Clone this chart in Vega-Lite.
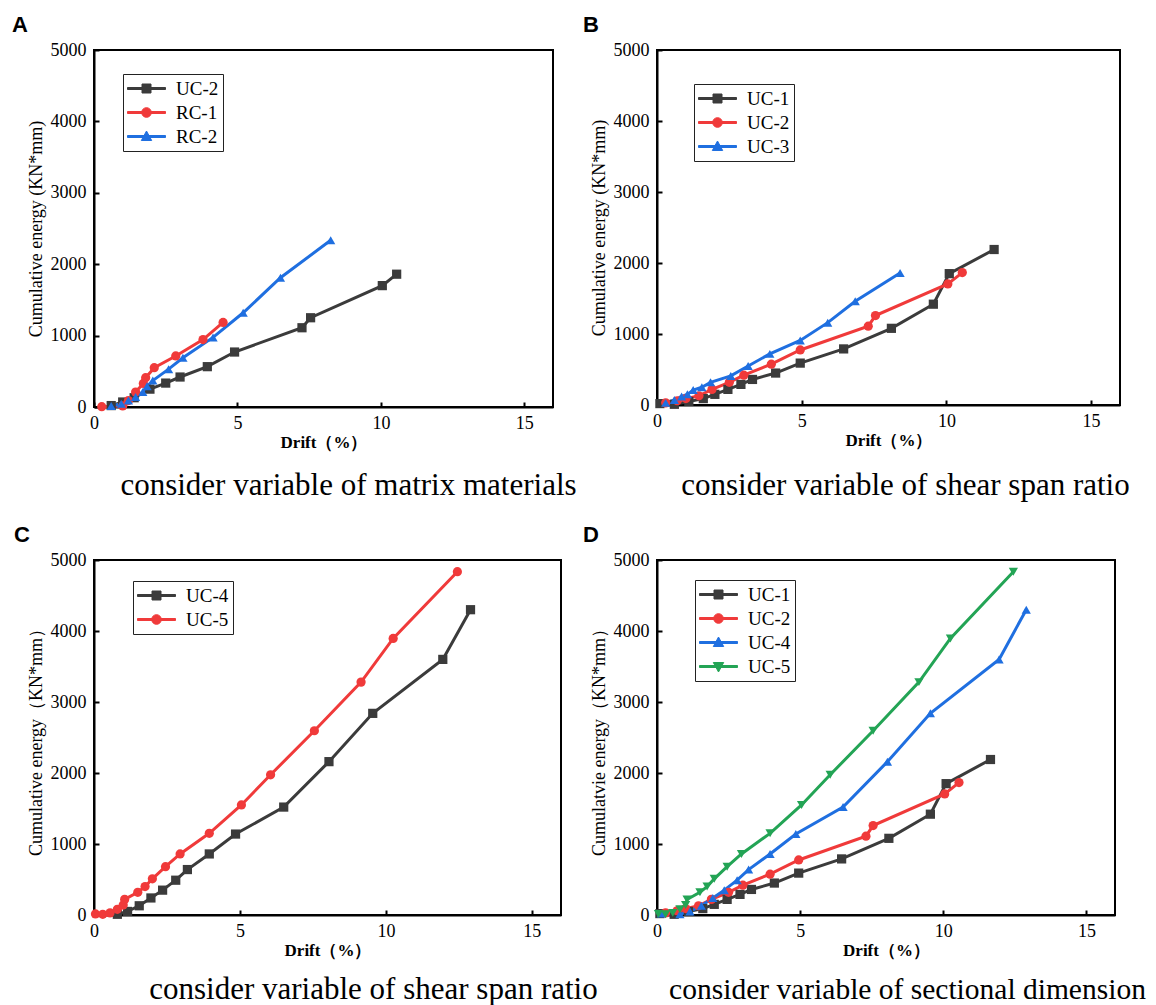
{
  "$schema": "https://vega.github.io/schema/vega-lite/v6.json",
  "padding": {"left": 11, "top": 13, "right": 5, "bottom": 5},
  "background": "white",
  "datasets": {
    "dA": [
      {"s": "UC-2", "x": 0.6, "y": 20}, {"s": "UC-2", "x": 1.0, "y": 70}, {"s": "UC-2", "x": 1.4, "y": 130}, {"s": "UC-2", "x": 1.95, "y": 250}, {"s": "UC-2", "x": 2.5, "y": 335}, {"s": "UC-2", "x": 3.0, "y": 420}, {"s": "UC-2", "x": 3.95, "y": 565}, {"s": "UC-2", "x": 4.9, "y": 770}, {"s": "UC-2", "x": 7.25, "y": 1110}, {"s": "UC-2", "x": 7.55, "y": 1250}, {"s": "UC-2", "x": 10.05, "y": 1700}, {"s": "UC-2", "x": 10.55, "y": 1860},
      {"s": "RC-1", "x": 0.27, "y": 5}, {"s": "RC-1", "x": 1.0, "y": 15}, {"s": "RC-1", "x": 1.2, "y": 90}, {"s": "RC-1", "x": 1.45, "y": 210}, {"s": "RC-1", "x": 1.72, "y": 330}, {"s": "RC-1", "x": 1.8, "y": 410}, {"s": "RC-1", "x": 2.1, "y": 550}, {"s": "RC-1", "x": 2.85, "y": 715}, {"s": "RC-1", "x": 3.8, "y": 945}, {"s": "RC-1", "x": 4.5, "y": 1185},
      {"s": "RC-2", "x": 0.6, "y": 15}, {"s": "RC-2", "x": 0.95, "y": 45}, {"s": "RC-2", "x": 1.2, "y": 90}, {"s": "RC-2", "x": 1.45, "y": 140}, {"s": "RC-2", "x": 1.7, "y": 210}, {"s": "RC-2", "x": 1.85, "y": 290}, {"s": "RC-2", "x": 2.05, "y": 370}, {"s": "RC-2", "x": 2.6, "y": 530}, {"s": "RC-2", "x": 3.1, "y": 690}, {"s": "RC-2", "x": 4.15, "y": 975}, {"s": "RC-2", "x": 5.2, "y": 1320}, {"s": "RC-2", "x": 6.5, "y": 1810}, {"s": "RC-2", "x": 8.25, "y": 2335}
    ],
    "dB": [
      {"s": "UC-1", "x": 0.1, "y": 20}, {"s": "UC-1", "x": 0.6, "y": 10}, {"s": "UC-1", "x": 1.1, "y": 50}, {"s": "UC-1", "x": 1.6, "y": 90}, {"s": "UC-1", "x": 2.0, "y": 150}, {"s": "UC-1", "x": 2.45, "y": 220}, {"s": "UC-1", "x": 2.9, "y": 290}, {"s": "UC-1", "x": 3.3, "y": 360}, {"s": "UC-1", "x": 4.1, "y": 450}, {"s": "UC-1", "x": 4.95, "y": 590}, {"s": "UC-1", "x": 6.45, "y": 790}, {"s": "UC-1", "x": 8.1, "y": 1080}, {"s": "UC-1", "x": 9.55, "y": 1420}, {"s": "UC-1", "x": 10.1, "y": 1850}, {"s": "UC-1", "x": 11.65, "y": 2190},
      {"s": "UC-2", "x": 0.3, "y": 30}, {"s": "UC-2", "x": 0.7, "y": 60}, {"s": "UC-2", "x": 1.0, "y": 90}, {"s": "UC-2", "x": 1.45, "y": 130}, {"s": "UC-2", "x": 1.9, "y": 220}, {"s": "UC-2", "x": 2.5, "y": 320}, {"s": "UC-2", "x": 3.0, "y": 420}, {"s": "UC-2", "x": 3.95, "y": 575}, {"s": "UC-2", "x": 4.95, "y": 775}, {"s": "UC-2", "x": 7.3, "y": 1110}, {"s": "UC-2", "x": 7.55, "y": 1260}, {"s": "UC-2", "x": 10.05, "y": 1705}, {"s": "UC-2", "x": 10.55, "y": 1865},
      {"s": "UC-3", "x": 0.3, "y": 30}, {"s": "UC-3", "x": 0.6, "y": 70}, {"s": "UC-3", "x": 0.85, "y": 120}, {"s": "UC-3", "x": 1.05, "y": 150}, {"s": "UC-3", "x": 1.25, "y": 210}, {"s": "UC-3", "x": 1.55, "y": 250}, {"s": "UC-3", "x": 1.85, "y": 320}, {"s": "UC-3", "x": 2.55, "y": 410}, {"s": "UC-3", "x": 3.15, "y": 550}, {"s": "UC-3", "x": 3.9, "y": 720}, {"s": "UC-3", "x": 4.95, "y": 910}, {"s": "UC-3", "x": 5.9, "y": 1160}, {"s": "UC-3", "x": 6.85, "y": 1460}, {"s": "UC-3", "x": 8.4, "y": 1860}
    ],
    "dC": [
      {"s": "UC-4", "x": 0.8, "y": 10}, {"s": "UC-4", "x": 1.15, "y": 50}, {"s": "UC-4", "x": 1.55, "y": 130}, {"s": "UC-4", "x": 1.95, "y": 240}, {"s": "UC-4", "x": 2.35, "y": 350}, {"s": "UC-4", "x": 2.8, "y": 490}, {"s": "UC-4", "x": 3.2, "y": 640}, {"s": "UC-4", "x": 3.95, "y": 860}, {"s": "UC-4", "x": 4.85, "y": 1140}, {"s": "UC-4", "x": 6.5, "y": 1520}, {"s": "UC-4", "x": 8.05, "y": 2160}, {"s": "UC-4", "x": 9.55, "y": 2840}, {"s": "UC-4", "x": 11.95, "y": 3600}, {"s": "UC-4", "x": 12.9, "y": 4300},
      {"s": "UC-5", "x": 0.05, "y": 15}, {"s": "UC-5", "x": 0.3, "y": 10}, {"s": "UC-5", "x": 0.55, "y": 30}, {"s": "UC-5", "x": 0.8, "y": 80}, {"s": "UC-5", "x": 1.0, "y": 140}, {"s": "UC-5", "x": 1.05, "y": 220}, {"s": "UC-5", "x": 1.5, "y": 320}, {"s": "UC-5", "x": 1.75, "y": 400}, {"s": "UC-5", "x": 2.0, "y": 510}, {"s": "UC-5", "x": 2.45, "y": 680}, {"s": "UC-5", "x": 2.95, "y": 860}, {"s": "UC-5", "x": 3.95, "y": 1150}, {"s": "UC-5", "x": 5.05, "y": 1550}, {"s": "UC-5", "x": 6.05, "y": 1975}, {"s": "UC-5", "x": 7.55, "y": 2595}, {"s": "UC-5", "x": 9.15, "y": 3280}, {"s": "UC-5", "x": 10.25, "y": 3895}, {"s": "UC-5", "x": 12.45, "y": 4835}
    ],
    "dD": [
      {"s": "UC-1", "x": 0.1, "y": 20}, {"s": "UC-1", "x": 0.6, "y": 10}, {"s": "UC-1", "x": 1.1, "y": 50}, {"s": "UC-1", "x": 1.6, "y": 90}, {"s": "UC-1", "x": 2.0, "y": 150}, {"s": "UC-1", "x": 2.45, "y": 220}, {"s": "UC-1", "x": 2.9, "y": 290}, {"s": "UC-1", "x": 3.3, "y": 360}, {"s": "UC-1", "x": 4.1, "y": 450}, {"s": "UC-1", "x": 4.95, "y": 590}, {"s": "UC-1", "x": 6.45, "y": 790}, {"s": "UC-1", "x": 8.1, "y": 1080}, {"s": "UC-1", "x": 9.55, "y": 1420}, {"s": "UC-1", "x": 10.1, "y": 1850}, {"s": "UC-1", "x": 11.65, "y": 2190},
      {"s": "UC-2", "x": 0.3, "y": 30}, {"s": "UC-2", "x": 0.7, "y": 60}, {"s": "UC-2", "x": 1.0, "y": 90}, {"s": "UC-2", "x": 1.45, "y": 130}, {"s": "UC-2", "x": 1.9, "y": 220}, {"s": "UC-2", "x": 2.5, "y": 320}, {"s": "UC-2", "x": 3.0, "y": 420}, {"s": "UC-2", "x": 3.95, "y": 575}, {"s": "UC-2", "x": 4.95, "y": 775}, {"s": "UC-2", "x": 7.3, "y": 1110}, {"s": "UC-2", "x": 7.55, "y": 1260}, {"s": "UC-2", "x": 10.05, "y": 1705}, {"s": "UC-2", "x": 10.55, "y": 1865},
      {"s": "UC-4", "x": 0.15, "y": 20}, {"s": "UC-4", "x": 0.8, "y": 10}, {"s": "UC-4", "x": 1.15, "y": 50}, {"s": "UC-4", "x": 1.55, "y": 130}, {"s": "UC-4", "x": 1.95, "y": 240}, {"s": "UC-4", "x": 2.35, "y": 350}, {"s": "UC-4", "x": 2.8, "y": 490}, {"s": "UC-4", "x": 3.2, "y": 640}, {"s": "UC-4", "x": 3.95, "y": 860}, {"s": "UC-4", "x": 4.85, "y": 1140}, {"s": "UC-4", "x": 6.5, "y": 1520}, {"s": "UC-4", "x": 8.05, "y": 2160}, {"s": "UC-4", "x": 9.55, "y": 2840}, {"s": "UC-4", "x": 11.95, "y": 3600}, {"s": "UC-4", "x": 12.9, "y": 4300},
      {"s": "UC-5", "x": 0.05, "y": 15}, {"s": "UC-5", "x": 0.3, "y": 10}, {"s": "UC-5", "x": 0.55, "y": 30}, {"s": "UC-5", "x": 0.8, "y": 80}, {"s": "UC-5", "x": 1.0, "y": 140}, {"s": "UC-5", "x": 1.05, "y": 220}, {"s": "UC-5", "x": 1.5, "y": 320}, {"s": "UC-5", "x": 1.75, "y": 400}, {"s": "UC-5", "x": 2.0, "y": 510}, {"s": "UC-5", "x": 2.45, "y": 680}, {"s": "UC-5", "x": 2.95, "y": 860}, {"s": "UC-5", "x": 3.95, "y": 1150}, {"s": "UC-5", "x": 5.05, "y": 1550}, {"s": "UC-5", "x": 6.05, "y": 1975}, {"s": "UC-5", "x": 7.55, "y": 2595}, {"s": "UC-5", "x": 9.15, "y": 3280}, {"s": "UC-5", "x": 10.25, "y": 3895}, {"s": "UC-5", "x": 12.45, "y": 4835}
    ]
  },
  "columns": 2,
  "bounds": "flush",
  "spacing": {"column": 96, "row": 153},
  "resolve": {"scale": {"color": "independent", "shape": "independent", "x": "independent", "y": "independent"}, "legend": {"color": "independent", "shape": "independent"}},
  "concat": [
    {
      "width": 459, "height": 357,
      "title": {"text": "A", "dx": -82},
      "data": {"name": "dA"},
      "resolve": {"axis": {"x": "independent"}},
      "layer": [
        {"mark": {"type": "line", "strokeWidth": 3},
         "encoding": {
           "x": {"field": "x", "type": "quantitative", "scale": {"domain": [0, 15]}, "axis": {"values": [0, 5, 10, 15], "title": "Drift（%）"}},
           "y": {"field": "y", "type": "quantitative", "scale": {"domain": [0, 5000]}, "axis": {"values": [0, 1000, 2000, 3000, 4000, 5000], "format": "d", "title": "Cumulative energy (KN*mm)"}},
           "detail": {"field": "s"}, "color": {"field": "s", "type": "nominal", "scale": {"domain": ["UC-2", "RC-1", "RC-2"], "range": ["#3b3b3b", "#f03a3a", "#1f6fe0"]},
           "legend": {"title": null, "legendX": 29, "legendY": 24,
             "encode": {"symbols": {"update": {
               "shape": {"signal": "['M-1,-0.1H2.8V0.1H-1ZM0.45,-0.45H1.35V0.45H0.45Z','M-1,-0.1H2.8V0.1H-1ZM1.38,0A0.48,0.48,0,1,1,0.42,0A0.48,0.48,0,1,1,1.38,0Z','M-1,-0.1H2.8V0.1H-1ZM0.9,-0.55L1.42,0.4H0.38Z'][indexof(['UC-2','RC-1','RC-2'], datum.value)]"},
               "fill": {"signal": "['#3b3b3b','#f03a3a','#1f6fe0'][indexof(['UC-2','RC-1','RC-2'], datum.value)]"},
               "strokeWidth": {"value": 1}, "opacity": {"value": 1}}}}}}}},
        {"mark": {"type": "point", "filled": true, "opacity": 1, "size": 85},
         "encoding": {
           "x": {"field": "x", "type": "quantitative", "axis": {"orient": "bottom", "title": "consider variable of matrix materials", "labels": false, "ticks": false, "domain": false, "titleX": 254, "titleY": 78, "titleBaseline": "middle", "titleAlign": "center", "titleFontSize": 31, "titleFontWeight": "normal", "titleFont": "Liberation Serif"}},
           "y": {"field": "y", "type": "quantitative"},
           "color": {"field": "s", "type": "nominal", "legend": null}, "shape": {"field": "s", "type": "nominal", "scale": {"domain": ["RC-1", "UC-2", "RC-2"], "range": ["circle", "square", "triangle-up"]}, "legend": null}}}
      ]
    },
    {
      "width": 463, "height": 355,
      "title": {"text": "B", "dx": -74},
      "data": {"name": "dB"},
      "resolve": {"axis": {"x": "independent"}},
      "layer": [
        {"mark": {"type": "line", "strokeWidth": 3},
         "encoding": {
           "x": {"field": "x", "type": "quantitative", "scale": {"domain": [0, 15]}, "axis": {"values": [0, 5, 10, 15], "title": "Drift（%）"}},
           "y": {"field": "y", "type": "quantitative", "scale": {"domain": [0, 5000]}, "axis": {"values": [0, 1000, 2000, 3000, 4000, 5000], "format": "d", "title": "Cumulative energy (KN*mm)"}},
           "detail": {"field": "s"}, "color": {"field": "s", "type": "nominal", "scale": {"domain": ["UC-1", "UC-2", "UC-3"], "range": ["#3b3b3b", "#f03a3a", "#1f6fe0"]},
           "legend": {"title": null, "legendX": 37, "legendY": 34,
             "encode": {"symbols": {"update": {
               "shape": {"signal": "['M-1,-0.1H2.8V0.1H-1ZM0.45,-0.45H1.35V0.45H0.45Z','M-1,-0.1H2.8V0.1H-1ZM1.38,0A0.48,0.48,0,1,1,0.42,0A0.48,0.48,0,1,1,1.38,0Z','M-1,-0.1H2.8V0.1H-1ZM0.9,-0.55L1.42,0.4H0.38Z'][indexof(['UC-1','UC-2','UC-3'], datum.value)]"},
               "fill": {"signal": "['#3b3b3b','#f03a3a','#1f6fe0'][indexof(['UC-1','UC-2','UC-3'], datum.value)]"},
               "strokeWidth": {"value": 1}, "opacity": {"value": 1}}}}}}}},
        {"mark": {"type": "point", "filled": true, "opacity": 1, "size": 85},
         "encoding": {
           "x": {"field": "x", "type": "quantitative", "axis": {"orient": "bottom", "title": "consider variable of shear span ratio", "labels": false, "ticks": false, "domain": false, "titleX": 248, "titleY": 80, "titleBaseline": "middle", "titleAlign": "center", "titleFontSize": 31, "titleFontWeight": "normal", "titleFont": "Liberation Serif"}},
           "y": {"field": "y", "type": "quantitative"},
           "color": {"field": "s", "type": "nominal", "legend": null}, "shape": {"field": "s", "type": "nominal", "scale": {"domain": ["UC-2", "UC-1", "UC-3"], "range": ["circle", "square", "triangle-up"]}, "legend": null}}}
      ]
    },
    {
      "width": 467, "height": 355,
      "title": {"text": "C", "dx": -80},
      "data": {"name": "dC"},
      "resolve": {"axis": {"x": "independent"}},
      "layer": [
        {"mark": {"type": "line", "strokeWidth": 3},
         "encoding": {
           "x": {"field": "x", "type": "quantitative", "scale": {"domain": [0, 15]}, "axis": {"values": [0, 5, 10, 15], "title": "Drift（%）"}},
           "y": {"field": "y", "type": "quantitative", "scale": {"domain": [0, 5000]}, "axis": {"values": [0, 1000, 2000, 3000, 4000, 5000], "format": "d", "title": "Cumulative energy（KN*mm）"}},
           "detail": {"field": "s"}, "color": {"field": "s", "type": "nominal", "scale": {"domain": ["UC-4", "UC-5"], "range": ["#3b3b3b", "#f03a3a"]},
           "legend": {"title": null, "legendX": 39, "legendY": 21,
             "encode": {"symbols": {"update": {
               "shape": {"signal": "['M-1,-0.1H2.8V0.1H-1ZM0.45,-0.45H1.35V0.45H0.45Z','M-1,-0.1H2.8V0.1H-1ZM1.38,0A0.48,0.48,0,1,1,0.42,0A0.48,0.48,0,1,1,1.38,0Z'][indexof(['UC-4','UC-5'], datum.value)]"},
               "fill": {"signal": "['#3b3b3b','#f03a3a'][indexof(['UC-4','UC-5'], datum.value)]"},
               "strokeWidth": {"value": 1}, "opacity": {"value": 1}}}}}}}},
        {"mark": {"type": "point", "filled": true, "opacity": 1, "size": 85},
         "encoding": {
           "x": {"field": "x", "type": "quantitative", "axis": {"orient": "bottom", "title": "consider variable of shear span ratio", "labels": false, "ticks": false, "domain": false, "titleX": 279, "titleY": 74, "titleBaseline": "middle", "titleAlign": "center", "titleFontSize": 31, "titleFontWeight": "normal", "titleFont": "Liberation Serif"}},
           "y": {"field": "y", "type": "quantitative"},
           "color": {"field": "s", "type": "nominal", "legend": null}, "shape": {"field": "s", "type": "nominal", "scale": {"domain": ["UC-5", "UC-4"], "range": ["circle", "square"]}, "legend": null}}}
      ]
    },
    {
      "width": 458, "height": 355,
      "title": {"text": "D", "dx": -74},
      "data": {"name": "dD"},
      "resolve": {"axis": {"x": "independent"}},
      "layer": [
        {"mark": {"type": "line", "strokeWidth": 3},
         "encoding": {
           "x": {"field": "x", "type": "quantitative", "scale": {"domain": [0, 15]}, "axis": {"values": [0, 5, 10, 15], "title": "Drift（%）"}},
           "y": {"field": "y", "type": "quantitative", "scale": {"domain": [0, 5000]}, "axis": {"values": [0, 1000, 2000, 3000, 4000, 5000], "format": "d", "title": "Cumulatvie energy（KN*mm）"}},
           "detail": {"field": "s"}, "color": {"field": "s", "type": "nominal", "scale": {"domain": ["UC-1", "UC-2", "UC-4", "UC-5"], "range": ["#3b3b3b", "#f03a3a", "#1f6fe0", "#23a455"]},
           "legend": {"title": null, "legendX": 38, "legendY": 20,
             "encode": {"symbols": {"update": {
               "shape": {"signal": "['M-1,-0.1H2.8V0.1H-1ZM0.45,-0.45H1.35V0.45H0.45Z','M-1,-0.1H2.8V0.1H-1ZM1.38,0A0.48,0.48,0,1,1,0.42,0A0.48,0.48,0,1,1,1.38,0Z','M-1,-0.1H2.8V0.1H-1ZM0.9,-0.55L1.42,0.4H0.38Z','M-1,-0.1H2.8V0.1H-1ZM0.9,0.55L0.38,-0.4H1.42Z'][indexof(['UC-1','UC-2','UC-4','UC-5'], datum.value)]"},
               "fill": {"signal": "['#3b3b3b','#f03a3a','#1f6fe0','#23a455'][indexof(['UC-1','UC-2','UC-4','UC-5'], datum.value)]"},
               "strokeWidth": {"value": 1}, "opacity": {"value": 1}}}}}}}},
        {"mark": {"type": "point", "filled": true, "opacity": 1, "size": 85},
         "encoding": {
           "x": {"field": "x", "type": "quantitative", "axis": {"orient": "bottom", "title": "consider variable of sectional dimension", "labels": false, "ticks": false, "domain": false, "titleX": 250, "titleY": 74, "titleBaseline": "middle", "titleAlign": "center", "titleFontSize": 29.5, "titleFontWeight": "normal", "titleFont": "Liberation Serif"}},
           "y": {"field": "y", "type": "quantitative"},
           "color": {"field": "s", "type": "nominal", "legend": null}, "shape": {"field": "s", "type": "nominal", "scale": {"domain": ["UC-2", "UC-1", "UC-4", "UC-5"], "range": ["circle", "square", "triangle-up", "triangle-down"]}, "legend": null}}}
      ]
    }
  ],
  "config": {
    "view": {"stroke": "black", "strokeWidth": 2},
    "font": "Liberation Serif",
    "title": {"anchor": "start", "frame": "group", "font": "Liberation Sans", "fontSize": 22, "fontWeight": "bold", "color": "black", "offset": 4},
    "axis": {"grid": false, "domainColor": "black", "domainWidth": 2, "tickColor": "black", "tickWidth": 2, "tickSize": -5, "labelFont": "Liberation Serif", "labelFontSize": 18, "labelColor": "black", "titleFont": "Liberation Serif", "titleFontSize": 18, "titleColor": "black", "titleFontWeight": "normal"},
    "axisX": {"labelPadding": 12, "titleFontWeight": "bold", "titleFontSize": 17, "titlePadding": 2, "labelFlush": false},
    "axisY": {"labelPadding": 13, "titlePadding": 5, "labelFlush": false},
    "legend": {"orient": "none", "labelFont": "Liberation Serif", "labelFontSize": 19, "labelColor": "black", "padding": 4, "rowPadding": 3, "labelOffset": 28, "symbolSize": 400, "strokeColor": "#222222", "fillColor": "white", "symbolOpacity": 1}
  }
}
